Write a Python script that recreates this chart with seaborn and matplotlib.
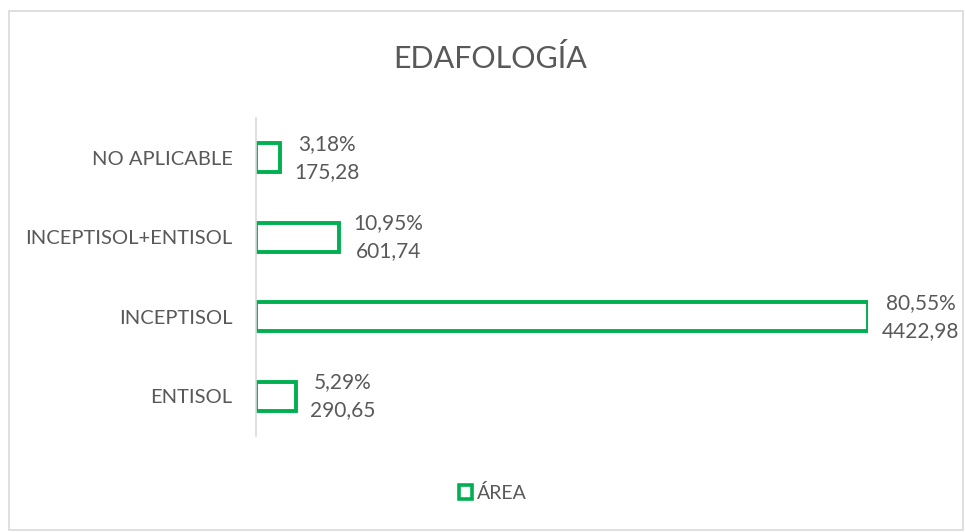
import matplotlib
matplotlib.use("Agg")
import matplotlib.pyplot as plt
from matplotlib.patches import Rectangle, Patch
import pandas as pd
import seaborn as sns

categories = ["NO APLICABLE", "INCEPTISOL+ENTISOL", "INCEPTISOL", "ENTISOL"]
areas = [175.28, 601.74, 4422.98, 290.65]
percents = ["3,18%", "10,95%", "80,55%", "5,29%"]
area_labels = ["175,28", "601,74", "4422,98", "290,65"]

green = "#00B050"
grey = "#595959"

sns.set_theme(style="white")
plt.rcParams["font.family"] = ["Lato", "DejaVu Sans"]

df = pd.DataFrame({"cat": categories, "area": areas})

fig = plt.figure(figsize=(9.65, 5.32), dpi=100)
ax = fig.add_axes([256 / 965, 1 - 436 / 532, (868 - 256) / 965, (436 - 118) / 532])

sns.barplot(data=df, x="area", y="cat", orient="h", fill=False, edgecolor=green,
            linewidth=2.8, width=0.36, ax=ax)

ax.set_xlim(0, max(areas))
ax.set_ylim(3.5, -0.5)
ax.set_xlabel("")
ax.set_ylabel("")
ax.set_xticks([])
for s in ["top", "right", "bottom"]:
    ax.spines[s].set_visible(False)
ax.spines["left"].set_color("#d9d9d9")
ax.spines["left"].set_linewidth(1.2)
ax.tick_params(axis="y", length=0, pad=17, labelsize=14.5, labelcolor=grey)

for i, (a, p, t) in enumerate(zip(areas, percents, area_labels)):
    ax.annotate(p + "\n" + t, xy=(a, i), xytext=(10, 0), textcoords="offset points",
                ha="left", va="center", multialignment="center",
                fontsize=15, color=grey, linespacing=1.5, annotation_clip=False)

fig.text(490 / 965, 1 - 58 / 532, "EDAFOLOGÍA", ha="center", va="center",
         fontsize=22, color=grey)

handle = Patch(facecolor="white", edgecolor=green, linewidth=2.6)
fig.legend([handle], ["ÁREA"], loc="center", bbox_to_anchor=(493 / 965, 1 - 493 / 532),
           frameon=False, fontsize=14, labelcolor=grey, handlelength=0.7,
           handleheight=0.7, handletextpad=0.25)

fig.patches.append(Rectangle((9 / 965, 2 / 532), 954 / 965, 519 / 532,
                             transform=fig.transFigure, fill=False,
                             edgecolor="#d9d9d9", linewidth=1.2))

fig.savefig("out.png", dpi=100)
